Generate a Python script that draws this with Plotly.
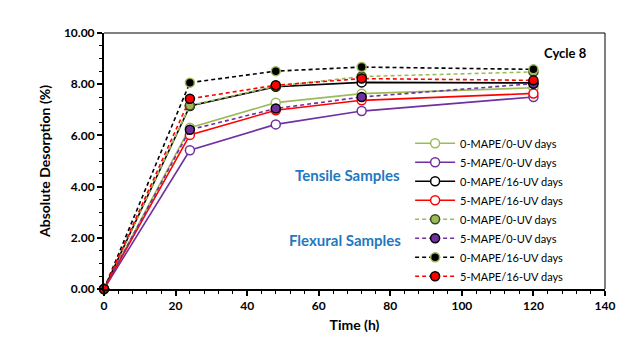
import plotly.graph_objects as go

time_h = [0, 24, 48, 72, 120]

labels = ["0-MAPE/0-UV days", "5-MAPE/0-UV days", "0-MAPE/16-UV days", "5-MAPE/16-UV days"]

# Tensile samples (solid lines, open markers)
t_0mape_0uv = [0.0, 6.30, 7.28, 7.63, 7.86]
t_5mape_0uv = [0.0, 5.42, 6.43, 6.95, 7.50]
t_0mape_16uv = [0.0, 7.15, 7.90, 8.07, 8.05]
t_5mape_16uv = [0.0, 6.02, 6.98, 7.37, 7.64]

# Flexural samples (dashed lines, filled markers)
f_0mape_0uv = [0.0, 7.17, 7.92, 8.30, 8.48]
f_5mape_0uv = [0.0, 6.22, 7.05, 7.50, 8.02]
f_0mape_16uv = [0.0, 8.06, 8.51, 8.67, 8.58]
f_5mape_16uv = [0.0, 7.43, 7.96, 8.22, 8.15]

green = "#9BBB59"
purple = "#7030A0"
black = "#000000"
red = "#FF0000"

fig = go.Figure()

tensile = [(t_0mape_0uv, green), (t_5mape_0uv, purple), (t_0mape_16uv, black), (t_5mape_16uv, red)]
for (vals, col), lab in zip(tensile, labels):
    fig.add_trace(go.Scatter(
        x=time_h, y=vals, name=lab, mode="lines+markers",
        line=dict(color=col, width=1.6),
        marker=dict(symbol="circle", size=9, color="white", line=dict(color=col, width=1.5)),
        cliponaxis=False,
    ))

flex = [(f_0mape_0uv, green, "#3a4a1a"), (f_5mape_0uv, purple, black),
        (f_0mape_16uv, black, green), (f_5mape_16uv, red, black)]
for (vals, col, edge), lab in zip(flex, labels):
    fig.add_trace(go.Scatter(
        x=time_h, y=vals, name=lab, mode="lines+markers",
        line=dict(color=col, width=1.6, dash="4px,3px"),
        marker=dict(symbol="circle", size=9, color=col, line=dict(color=edge, width=1.5)),
        cliponaxis=False,
    ))

font_family = "Lato, 'Open Sans', Arial, sans-serif"

fig.update_layout(
    width=641, height=356,
    margin=dict(l=104, r=36, t=33, b=67, autoexpand=False),
    paper_bgcolor="white", plot_bgcolor="white",
    font=dict(family=font_family, color="black"),
    showlegend=True,
    legend=dict(
        x=0.611, y=0.626, xanchor="left", yanchor="top",
        bgcolor="rgba(0,0,0,0)", borderwidth=0,
        font=dict(size=11, family=font_family, color="black"),
        tracegroupgap=0, itemwidth=40,
    ),
    xaxis=dict(
        range=[0, 140], dtick=20, tick0=0, automargin=False,
        showgrid=False, zeroline=False,
        showline=True, linecolor="black", linewidth=2,
        ticks="outside", ticklen=5, tickwidth=1.5, tickcolor="black",
        minor=dict(dtick=4, ticks="outside", ticklen=3, tickwidth=1, tickcolor="black"),
        tickfont=dict(size=12, family=font_family, color="black", weight="bold"),
        title=dict(text="<b>Time (h)</b>", font=dict(size=14, family=font_family, color="black"), standoff=8),
    ),
    yaxis=dict(
        range=[0, 10], dtick=2, tick0=0, tickformat=".2f", automargin=False,
        showgrid=False, zeroline=False,
        showline=True, linecolor="black", linewidth=2,
        ticks="outside", ticklen=5, tickwidth=1.5, tickcolor="black",
        minor=dict(dtick=0.5, ticks="outside", ticklen=3, tickwidth=1, tickcolor="black"),
        tickfont=dict(size=12, family=font_family, color="black", weight="bold"),
        title=dict(text="<b>Absolute Desorption (%)</b>", font=dict(size=14, family=font_family, color="black"), standoff=10),
    ),
    shapes=[
        dict(type="line", xref="paper", yref="paper", x0=0, x1=1, y0=1, y1=1,
             line=dict(color="black", width=1)),
        dict(type="line", xref="paper", yref="paper", x0=1, x1=1, y0=0, y1=1,
             line=dict(color="black", width=1)),
    ],
    annotations=[
        dict(text="<b>Cycle 8</b>", xref="paper", yref="paper", x=0.921, y=0.922,
             showarrow=False, xanchor="center", yanchor="middle",
             font=dict(size=13, family=font_family, color="black")),
        dict(text="<b>Tensile Samples</b>", xref="paper", yref="paper", x=0.487, y=0.444,
             showarrow=False, xanchor="center", yanchor="middle",
             font=dict(size=15, family=font_family, color="#1F78C1")),
        dict(text="<b>Flexural Samples</b>", xref="paper", yref="paper", x=0.482, y=0.191,
             showarrow=False, xanchor="center", yanchor="middle",
             font=dict(size=15, family=font_family, color="#1F78C1")),
    ],
)

post = (
    "document.body.style.margin='0';"
    "document.body.style.padding='0';"
    "document.documentElement.style.overflow='hidden';"
    "document.body.style.overflow='hidden';"
    "Plotly.relayout(document.getElementById('{plot_id}'), {width: 641, height: 356});"
)

fig.write_html("out.html", post_script=post, config={"displayModeBar": False})
